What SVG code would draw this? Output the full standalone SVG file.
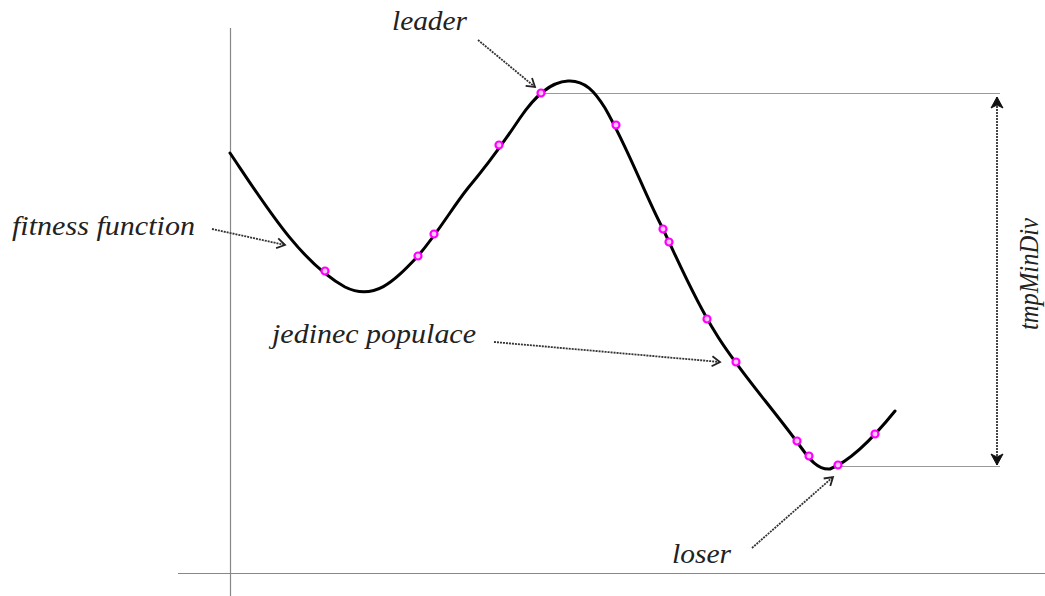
<svg xmlns="http://www.w3.org/2000/svg" width="1045" height="596" viewBox="0 0 1045 596">
<style>
.axis{stroke:#888;stroke-width:1.2;fill:none}
.guide{stroke:#999;stroke-width:1.2;fill:none}
.curve{stroke:#000;stroke-width:3;fill:none;stroke-linecap:round}
.dot{fill:#f8c8f8;stroke:#ff00ff;stroke-width:2.2}
.arr{stroke:#333;stroke-width:1.8;fill:none;stroke-dasharray:2 1}
.lbl{font-family:"Liberation Serif","Times New Roman",serif;font-style:italic;font-size:28px;fill:#222}
</style>
<defs>
<marker id="ah" markerWidth="12" markerHeight="12" refX="10" refY="6" orient="auto" markerUnits="userSpaceOnUse">
<path d="M2,1 L10,6 L2,11" fill="none" stroke="#222" stroke-width="1.8"/>
</marker>
<marker id="ahs" markerWidth="14" markerHeight="14" refX="12" refY="7" orient="auto-start-reverse" markerUnits="userSpaceOnUse">
<path d="M1,1 L12,7 L1,13 L4,7 Z" fill="#111" stroke="#111" stroke-width="1"/>
</marker>
</defs>
<g id="axes">
<line class="axis" x1="230.5" y1="28" x2="230.5" y2="596"/>
<line class="axis" x1="178" y1="573.5" x2="1045" y2="573.5"/>
</g>
<g id="guides">
<line class="guide" x1="541" y1="93.5" x2="1000" y2="93.5"/>
<line class="guide" x1="838" y1="466.5" x2="1000" y2="466.5"/>
</g>
<g id="fitness-curve">
<path class="curve" d="M230,153 C265,205 300,262 345,287 C375,302 395,280 418,256 C440,230 452,208 468,188 C485,168 500,148 520,118 C535,96 550,82 568,81 C585,80 595,92 605,108 C628,148 645,195 663,229 C680,265 695,300 715,332 C735,366 770,405 800,446 C810,460 818,470 830,469 C848,462 870,442 895,411"/>
</g>
<g id="individuals">
<circle class="dot" cx="325" cy="271" r="3.5"/>
<circle class="dot" cx="418" cy="256" r="3.5"/>
<circle class="dot" cx="434" cy="234" r="3.5"/>
<circle class="dot" cx="499" cy="145" r="3.5"/>
<circle class="dot" cx="541" cy="93" r="3.5"/>
<circle class="dot" cx="616" cy="125" r="3.5"/>
<circle class="dot" cx="663" cy="229" r="3.5"/>
<circle class="dot" cx="669" cy="242" r="3.5"/>
<circle class="dot" cx="707" cy="319" r="3.5"/>
<circle class="dot" cx="736" cy="362" r="3.5"/>
<circle class="dot" cx="797" cy="441" r="3.5"/>
<circle class="dot" cx="809" cy="456" r="3.5"/>
<circle class="dot" cx="838" cy="465" r="3.5"/>
<circle class="dot" cx="875" cy="434" r="3.5"/>
</g>
<g id="connectors">
<line class="arr" x1="478" y1="40" x2="535" y2="87" marker-end="url(#ah)"/>
<line class="arr" x1="212" y1="229" x2="285" y2="245" marker-end="url(#ah)"/>
<line class="arr" x1="494" y1="342" x2="720" y2="362" marker-end="url(#ah)"/>
<line class="arr" x1="752" y1="548" x2="833" y2="477" marker-end="url(#ah)"/>
<line class="arr" x1="997" y1="97" x2="997" y2="465" marker-start="url(#ahs)" marker-end="url(#ahs)"/>
</g>
<g id="label-leader"><text class="lbl" x="392" y="30" textLength="75" lengthAdjust="spacingAndGlyphs">leader</text></g>
<g id="label-fitness"><text class="lbl" x="12" y="235" textLength="183" lengthAdjust="spacingAndGlyphs">fitness function</text></g>
<g id="label-jedinec"><text class="lbl" x="272" y="343" textLength="204" lengthAdjust="spacingAndGlyphs">jedinec populace</text></g>
<g id="label-loser"><text class="lbl" x="672" y="563" textLength="59" lengthAdjust="spacingAndGlyphs">loser</text></g>
<g id="label-tmpMinDiv"><text class="lbl" text-anchor="middle" transform="translate(1038,274) rotate(-90)" textLength="112" lengthAdjust="spacingAndGlyphs">tmpMinDiv</text></g>
</svg>
